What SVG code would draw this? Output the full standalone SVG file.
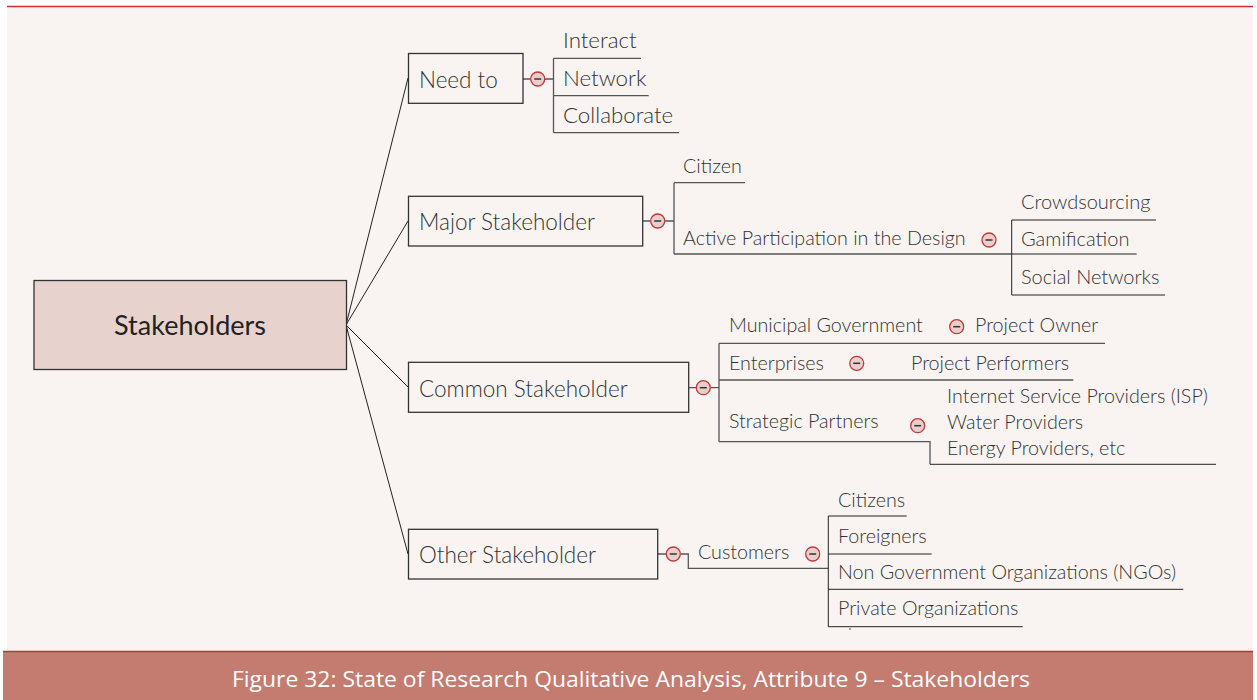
<svg xmlns="http://www.w3.org/2000/svg" width="1257" height="700" viewBox="0 0 1257 700">
<style>
.t{font-family:Lato,"Liberation Sans",sans-serif;font-weight:300;font-size:19.7px;fill:#333}
.n{font-size:22.5px}
.k{font-size:22.3px}
.m{font-size:20px}
.b{fill:none;stroke:#333;stroke-width:1.3}
.l{fill:none;stroke:#555;stroke-width:1.3}
.c{fill:none;stroke:#222;stroke-width:1}
.cap{font-family:"Open Sans","Liberation Sans",sans-serif;font-size:22px;fill:#fff}
</style>
<defs>
<g id="col"><circle r="7" fill="#e8cfcb" stroke="#c0393b" stroke-width="1.3"/><line x1="-3.5" y1="0" x2="3.5" y2="0" stroke="#333" stroke-width="1.5"/></g>
</defs>
<rect x="0" y="0" width="1257" height="700" fill="#fff"/>
<rect x="7" y="6" width="1246" height="645" fill="#f9f4f2"/>
<line x1="7" y1="6.5" x2="1253" y2="6.5" stroke="#c8323a" stroke-width="1.5"/>

<g id="connectors">
<path class="c" d="M346,325 L408,78 M346,325 L408,221 M346,325 L408,387 M346,325 L408,554"/>
<path class="l" d="M523,79 H530 M545,79 H553.5 M553.5,58.3 V132.7 M553.5,58.3 H641 M553.5,95.7 H648.7 M553.5,132.7 H679"/>
<path class="l" d="M643,221 H650 M665,221 H674 M674,182.7 V254 M674,182.7 H745 M674,254 H1011.7"/>
<path class="c" d="M1011.7,220 V295 M1011.7,220 H1156 M1011.7,254 H1136.7 M1011.7,295 H1165"/>
<path class="l" d="M689,387.7 H696 M711,387.7 H719 M719,343.3 V441.7 M719,343.3 H1105 M719,380 H1073.3 M719,441.7 H930 V464.3"/>
<path class="c" d="M930,464.3 H1216"/>
<path class="l" d="M658,554 H666 M681,554 H688.3 V568.3 H828.3"/>
<path class="c" d="M828.3,516 V626.7 M828.3,516 H906.7 M828.3,554 H931.7 M828.3,589.3 H1183.3 M828.3,626.7 H1022.7"/>
<circle cx="850" cy="629" r="0.8" fill="#333"/>
</g>

<g id="root">
<rect x="34" y="280.5" width="312.5" height="89" fill="#e8d2cd" stroke="#333" stroke-width="1.3"/>
<text x="190" y="335" text-anchor="middle" style="font-family:Lato,'Liberation Sans',sans-serif;font-size:27px;fill:#222">Stakeholders</text>
</g>

<g id="need-to">
<rect class="b" x="408.5" y="53.5" width="114.5" height="49.8"/>
<text class="t n" x="419" y="88">Need to</text>
<use href="#col" x="537.7" y="79"/>
</g>
<g id="interact"><text class="t k" x="563" y="48">Interact</text></g>
<g id="network"><text class="t k" x="563" y="86">Network</text></g>
<g id="collaborate"><text class="t k" x="563" y="123">Collaborate</text></g>

<g id="major">
<rect class="b" x="408.5" y="196.3" width="234.2" height="49.7"/>
<text class="t n" x="419" y="230">Major Stakeholder</text>
<use href="#col" x="657.7" y="221"/>
</g>
<g id="citizen"><text class="t" x="683" y="173">Citizen</text></g>
<g id="active">
<text class="t" x="683" y="245">Active Participation in the Design</text>
<use href="#col" x="989" y="240"/>
</g>
<g id="crowdsourcing"><text class="t m" x="1021" y="209">Crowdsourcing</text></g>
<g id="gamification"><text class="t m" x="1021" y="246">Gamification</text></g>
<g id="social"><text class="t m" x="1021" y="284">Social Networks</text></g>

<g id="common">
<rect class="b" x="408.5" y="362.3" width="280.2" height="50"/>
<text class="t n" x="419" y="397">Common Stakeholder</text>
<use href="#col" x="703.3" y="387.7"/>
</g>
<g id="municipal">
<text class="t" x="729" y="332">Municipal Government</text>
<use href="#col" x="956.7" y="326.7"/>
</g>
<g id="owner"><text class="t" x="975" y="332">Project Owner</text></g>
<g id="enterprises">
<text class="t" x="729" y="370">Enterprises</text>
<use href="#col" x="856.7" y="363.3"/>
</g>
<g id="performers"><text class="t" x="911" y="370">Project Performers</text></g>
<g id="strategic">
<text class="t" x="729" y="428">Strategic Partners</text>
<use href="#col" x="917.7" y="425.7"/>
</g>
<g id="providers">
<text class="t" x="947" y="403">Internet Service Providers (ISP)</text>
<text class="t" x="947" y="429">Water Providers</text>
<text class="t" x="947" y="455">Energy Providers, etc</text>
</g>

<g id="other">
<rect class="b" x="408.5" y="529.3" width="249.2" height="49.7"/>
<text class="t n" x="419" y="563">Other Stakeholder</text>
<use href="#col" x="673.3" y="554"/>
</g>
<g id="customers">
<text class="t" x="698" y="559">Customers</text>
<use href="#col" x="812.7" y="554"/>
</g>
<g id="citizens"><text class="t" x="838" y="507">Citizens</text></g>
<g id="foreigners"><text class="t" x="838" y="543">Foreigners</text></g>
<g id="ngos"><text class="t" x="838" y="579">Non Government Organizations (NGOs)</text></g>
<g id="private"><text class="t" x="838" y="615">Private Organizations</text></g>

<g id="caption">
<rect x="3" y="651" width="1250" height="49" fill="#c47b70"/>
<line x1="3" y1="651.5" x2="1253" y2="651.5" stroke="#b03a3a" stroke-width="1.5"/>
<text class="cap" x="232" y="687" textLength="798" lengthAdjust="spacingAndGlyphs">Figure 32: State of Research Qualitative Analysis, Attribute 9 – Stakeholders</text>
</g>
</svg>
